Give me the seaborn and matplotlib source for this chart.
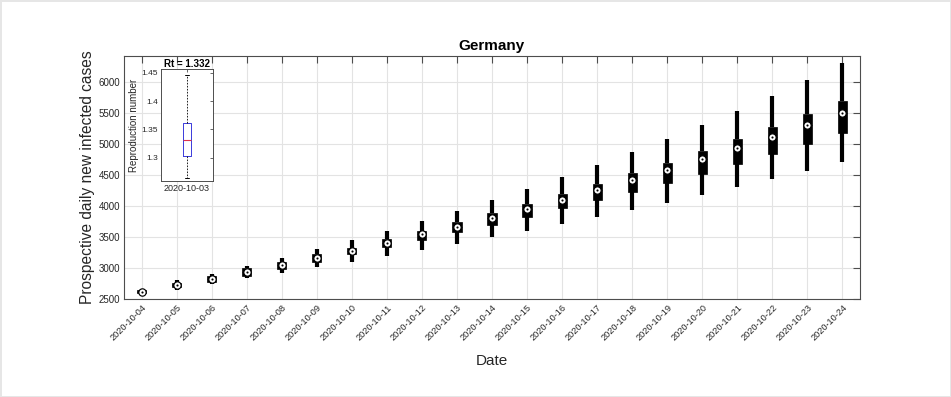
import numpy as np
import pandas as pd
import matplotlib
matplotlib.use("Agg")
import matplotlib.pyplot as plt
import seaborn as sns

# ---------------- data ----------------
dates = ["2020-10-04", "2020-10-05", "2020-10-06", "2020-10-07", "2020-10-08",
         "2020-10-09", "2020-10-10", "2020-10-11", "2020-10-12", "2020-10-13",
         "2020-10-14", "2020-10-15", "2020-10-16", "2020-10-17", "2020-10-18",
         "2020-10-19", "2020-10-20", "2020-10-21", "2020-10-22", "2020-10-23",
         "2020-10-24"]
median = [2618, 2726, 2823, 2931, 3044, 3165, 3279, 3408, 3544, 3666,
          3811, 3952, 4097, 4258, 4416, 4581, 4754, 4931, 5118, 5307, 5505]
q1 = [2595, 2690, 2775, 2871, 2989, 3102, 3226, 3334, 3452, 3576,
      3698, 3828, 3960, 4092, 4231, 4366, 4516, 4673, 4834, 5000, 5173]
q3 = [2640, 2765, 2871, 2995, 3092, 3223, 3327, 3473, 3602, 3737,
      3882, 4032, 4190, 4355, 4528, 4699, 4887, 5076, 5274, 5484, 5699]
w_low = [2580, 2650, 2737, 2831, 2919, 3021, 3102, 3198, 3290, 3392,
         3495, 3602, 3713, 3818, 3936, 4053, 4178, 4302, 4431, 4570, 4705]
w_high = [2655, 2800, 2903, 3027, 3156, 3302, 3447, 3597, 3758, 3924,
          4097, 4274, 4463, 4661, 4866, 5081, 5307, 5537, 5779, 6032, 6302]

rt_date = ["2020-10-03"]
rt_whislo = 1.264
rt_q1 = 1.303
rt_med = 1.332
rt_q3 = 1.362
rt_whishi = 1.446
rt_value = "1.332"

title = "Germany"
xlabel = "Date"
ylabel = "Prospective daily new infected cases"
yticks = [2500, 3000, 3500, 4000, 4500, 5000, 5500, 6000]
rt_yticks = [1.3, 1.35, 1.4, 1.45]
rt_yticklabels = ["1.3", "1.35", "1.4", "1.45"]

# five-number summaries as long-form data (percentiles reproduce q1/median/q3 exactly)
rows = []
for d, a, b, c, e, f in zip(dates, w_low, q1, median, q3, w_high):
    for v in (a, b, c, e, f):
        rows.append({"date": d, "value": v})
df = pd.DataFrame(rows)

# ---------------- style ----------------
sns.set_theme(style="white")
plt.rcParams["font.family"] = ["Liberation Sans", "DejaVu Sans"]
AX_COL = "#4d4d4d"
GRID_COL = "#e3e3e3"
BLUE, RED = "#3a3adb", "#e0334b"

fig = plt.figure(figsize=(9.51, 3.97), dpi=100)
W, H = 951, 397
ax = fig.add_axes([124 / W, 1 - 299 / H, (860 - 124) / W, (299 - 56) / H])

sns.boxplot(data=df, x="date", y="value", order=dates, ax=ax,
            width=0.26, whis=(0, 100), color="black", linecolor="black",
            linewidth=0.5, fliersize=0, showcaps=False,
            boxprops=dict(facecolor="black", edgecolor="black"),
            whiskerprops=dict(linewidth=3.0, color="black"),
            medianprops=dict(color="black", linewidth=0.5))

xpos = np.arange(len(dates))
ax.scatter(xpos, median, s=28, facecolor="white", edgecolor="black",
           linewidth=0.85, zorder=5)
ax.scatter(xpos, median, s=2.4, color="black", linewidth=0, zorder=6)

ax.set_xlim(-0.5, len(dates) - 0.5)
ax.set_ylim(2500, 6420)
ax.set_yticks(yticks)
ax.set_yticklabels([str(t) for t in yticks], fontsize=7, color="#262626")
ax.set_xticks(xpos)
ax.set_xticklabels(dates, rotation=45, ha="right", rotation_mode="anchor",
                   fontsize=6.6, color="#262626")
ax.tick_params(axis="both", direction="in", length=5, width=0.8, color=AX_COL,
               top=True, right=True, pad=3)
ax.grid(True, color=GRID_COL, linewidth=0.8)
ax.set_axisbelow(True)
for s in ax.spines.values():
    s.set_color(AX_COL)
    s.set_linewidth(0.8)
ax.set_title(title, fontsize=11, fontweight="bold", pad=4, color="black")
ax.set_xlabel(xlabel, fontsize=11, color="#262626", labelpad=8)
ax.set_ylabel(ylabel, fontsize=11.2, color="#262626", labelpad=2)

# ---------------- inset ----------------
ins = fig.add_axes([161 / W, 1 - 181 / H, 52 / W, 112 / H])
ins.set_facecolor("white")
rt_stats = [dict(med=rt_med, q1=rt_q1, q3=rt_q3, whislo=rt_whislo,
                 whishi=rt_whishi, fliers=[], label=rt_date[0])]
ins.bxp(rt_stats, positions=[0], widths=0.16, showfliers=False,
        manage_ticks=False, capwidths=0.06,
        boxprops=dict(color=BLUE, linewidth=0.7),
        whiskerprops=dict(color="black", linestyle=(0, (2, 1.6)), linewidth=0.6),
        capprops=dict(color="black", linewidth=0.7),
        medianprops=dict(color=RED, linewidth=0.8))
ins.set_xlim(-0.5, 0.5)
ins.set_ylim(1.259, 1.4565)
ins.set_yticks(rt_yticks)
ins.set_yticklabels(rt_yticklabels, fontsize=6, color="#262626")
ins.set_xticks([0])
ins.set_xticklabels(rt_date, fontsize=6.5, color="#262626")
ins.tick_params(axis="both", direction="in", length=2.5, width=0.6, color=AX_COL,
                top=True, right=True, pad=2)
for s in ins.spines.values():
    s.set_color(AX_COL)
    s.set_linewidth(0.7)
ins.set_title("Rt = " + rt_value, fontsize=7, fontweight="bold", pad=1.5, color="black")
ins.set_xlabel("")
ins.set_ylabel("Reproduction number", fontsize=7, color="#262626", labelpad=2)

fig.patch.set_edgecolor("#e6e6e6")
fig.patch.set_linewidth(2)

fig.savefig("out.png", dpi=100)
